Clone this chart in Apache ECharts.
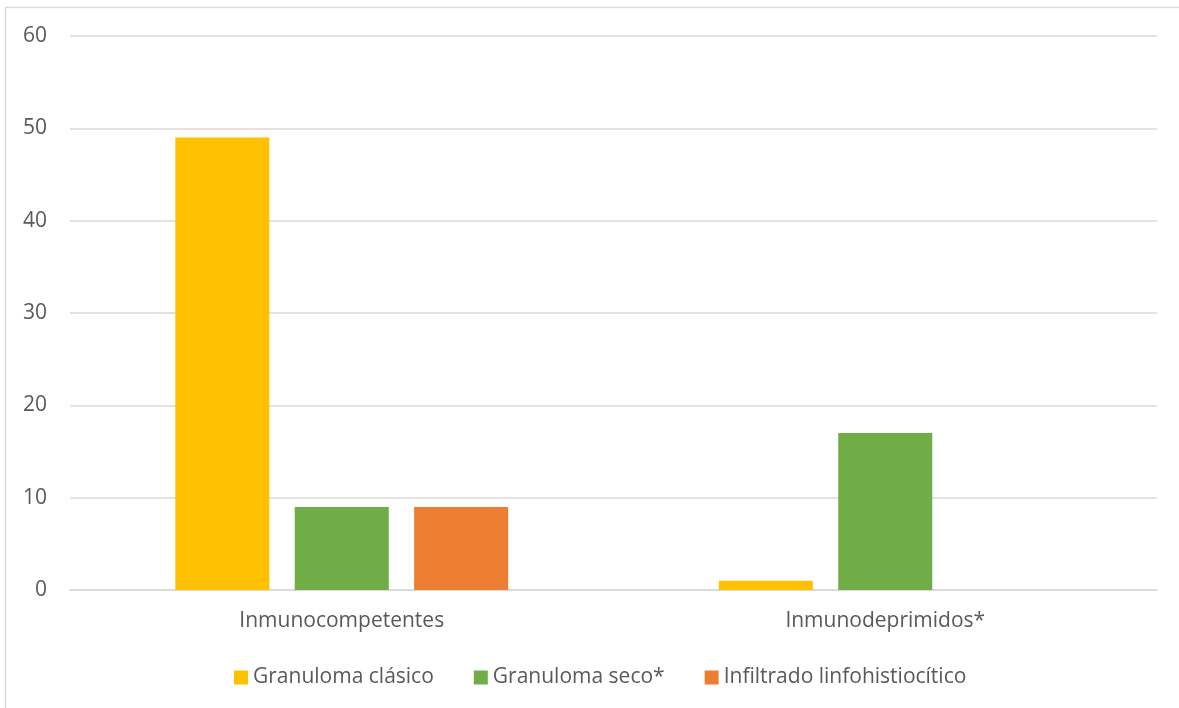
<!DOCTYPE html>
<html>
<head>
<meta charset="utf-8">
<style>
  html, body { margin: 0; padding: 0; background: #ffffff; }
  #chart { width: 1179px; height: 708px; }
</style>
<script src="https://cdn.jsdelivr.net/npm/echarts@6/dist/echarts.min.js"></script>
</head>
<body>
<div id="chart"></div>
<script>
// Groups along the x axis
const categories = ['Inmunocompetentes', 'Inmunodeprimidos*'];

// Series names and counts per group
const seriesNames = ['Granuloma clásico', 'Granuloma seco*', 'Infiltrado linfohistiocítico'];
const granulomaClasico = [49, 1];
const granulomaSeco = [9, 17];
const infiltrado = [9, 0];

// Value axis ticks
const yTicks = [0, 10, 20, 30, 40, 50, 60];

const colors = ['#FFC000', '#70AD47', '#ED7D31'];
const textColor = '#595959';
const lineColor = '#D9D9D9';
const fontFamily = '"Open Sans", Lato, sans-serif';

const chart = echarts.init(document.getElementById('chart'));

const seriesData = [granulomaClasico, granulomaSeco, infiltrado];

chart.setOption({
  animation: false,
  backgroundColor: '#ffffff',
  color: colors,
  textStyle: { fontFamily: fontFamily },
  grid: { left: 70, right: 22, top: 36, bottom: 118, containLabel: false },
  legend: {
    left: 229,
    top: 662,
    itemWidth: 14,
    itemHeight: 14,
    itemGap: 40,
    icon: 'rect',
    data: seriesNames,
    textStyle: { color: textColor, fontSize: 21, fontFamily: fontFamily }
  },
  xAxis: {
    type: 'category',
    data: categories,
    axisLine: { show: true, lineStyle: { color: lineColor, width: 1.5 } },
    axisTick: { show: false },
    axisLabel: { color: textColor, fontSize: 21, margin: 21, fontFamily: fontFamily }
  },
  yAxis: {
    type: 'value',
    min: yTicks[0],
    max: yTicks[yTicks.length - 1],
    interval: 10,
    axisLine: { show: false },
    axisTick: { show: false },
    axisLabel: { color: textColor, fontSize: 21, margin: 23, fontFamily: fontFamily },
    splitLine: { lineStyle: { color: lineColor, width: 1.5 } }
  },
  series: seriesNames.map((name, i) => ({
    name: name,
    type: 'bar',
    data: seriesData[i],
    barWidth: '17.3%',
    barGap: '27%',
    itemStyle: { color: colors[i] }
  })),
  graphic: [
    {
      type: 'line',
      shape: { x1: 5.5, y1: 7, x2: 5.5, y2: 708 },
      style: { stroke: lineColor, lineWidth: 1.5 }
    },
    {
      type: 'line',
      shape: { x1: 5, y1: 7.5, x2: 1179, y2: 7.5 },
      style: { stroke: lineColor, lineWidth: 1.5 }
    }
  ]
});
</script>
</body>
</html>
